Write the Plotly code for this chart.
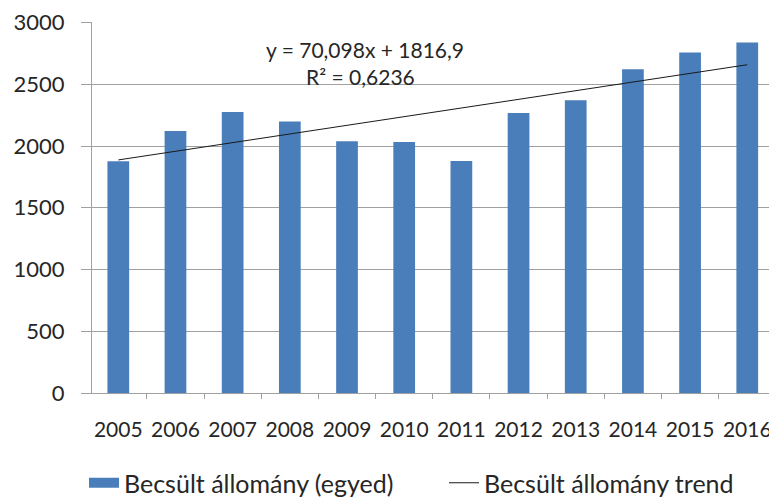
import plotly.graph_objects as go

years = ["2005", "2006", "2007", "2008", "2009", "2010",
         "2011", "2012", "2013", "2014", "2015", "2016"]
allomany = [1877, 2122, 2276, 2198, 2039, 2033, 1879, 2268, 2371, 2621, 2757, 2837]
y_ticks = [0, 500, 1000, 1500, 2000, 2500, 3000]
trend_slope = 70.098
trend_intercept = 1816.9
r_squared = "0,6236"

trend_x = [years[0], years[-1]]
trend_y = [trend_slope * 1 + trend_intercept, trend_slope * len(years) + trend_intercept]

FONT = "Lato, 'Open Sans', sans-serif"
TXT = "#262626"
GRID = "#A0A0A0"
BLUE = "#4A7EBB"

# the page adds an 8 px body margin, so the figure is sized to the visible area
W, H = 769, 491
L, T, B = 84, 14, 106
PW, PH = W - L, H - T - B

fig = go.Figure()
fig.add_trace(go.Bar(
    x=years, y=allomany, name="Becsült állomány (egyed)",
    marker=dict(color=BLUE, line=dict(width=0)), width=0.38,
    showlegend=False, legendgroup="bar",
))
# legend proxy giving the wide rectangular swatch of the bar series
fig.add_trace(go.Scatter(
    x=[None], y=[None], mode="lines", name="Becsült állomány (egyed)",
    line=dict(color=BLUE, width=14), legendgroup="bar", hoverinfo="skip",
    legend="legend",
))
fig.add_trace(go.Scatter(
    x=trend_x, y=trend_y, mode="lines", name="Becsült állomány trend",
    line=dict(color="#1a1a1a", width=1), legend="legend2",
))

fig.add_annotation(xref="paper", yref="paper", x=(357 - L) / PW, y=(H - B - 41) / PH,
                   xanchor="center", yanchor="middle",
                   text="y = 70,098x + 1816,9", showarrow=False,
                   font=dict(size=21, color=TXT, family=FONT))
fig.add_annotation(xref="paper", yref="paper", x=(352 - L) / PW, y=(H - B - 68) / PH,
                   xanchor="center", yanchor="middle",
                   text="R² = " + r_squared, showarrow=False,
                   font=dict(size=21, color=TXT, family=FONT))

leg_common = dict(orientation="h", xref="container", yref="container",
                  y=(H - 475) / H, xanchor="left", yanchor="middle",
                  font=dict(size=25, color=TXT, family=FONT), itemwidth=30,
                  bgcolor="rgba(0,0,0,0)")

fig.update_layout(
    width=W, height=H,
    margin=dict(l=L, r=0, t=T, b=B, autoexpand=False),
    plot_bgcolor="white", paper_bgcolor="white",
    font=dict(family=FONT, size=22, color=TXT),
    showlegend=True,
    legend=dict(x=76 / W, **leg_common),
    legend2=dict(x=436 / W, **leg_common),
)
fig.update_xaxes(
    type="category", range=[-0.46, 11.52], automargin=False,
    showline=True, linecolor=GRID, linewidth=1,
    ticks="outside", tickson="boundaries", ticklen=5, tickcolor=GRID,
    tickangle=0, showgrid=False, ticklabelstandoff=18,
    tickfont=dict(size=21, color=TXT, family=FONT),
)
fig.update_yaxes(
    range=[0, 3004], tickvals=y_ticks, automargin=False,
    showline=True, linecolor=GRID, linewidth=1,
    showgrid=True, gridcolor=GRID, gridwidth=1,
    ticks="outside", ticklen=10, tickcolor=GRID,
    ticklabelstandoff=12, ticklabeloverflow="allow",
    tickfont=dict(size=22, color=TXT, family=FONT),
    zeroline=False,
)

fig.write_html("out.html")
